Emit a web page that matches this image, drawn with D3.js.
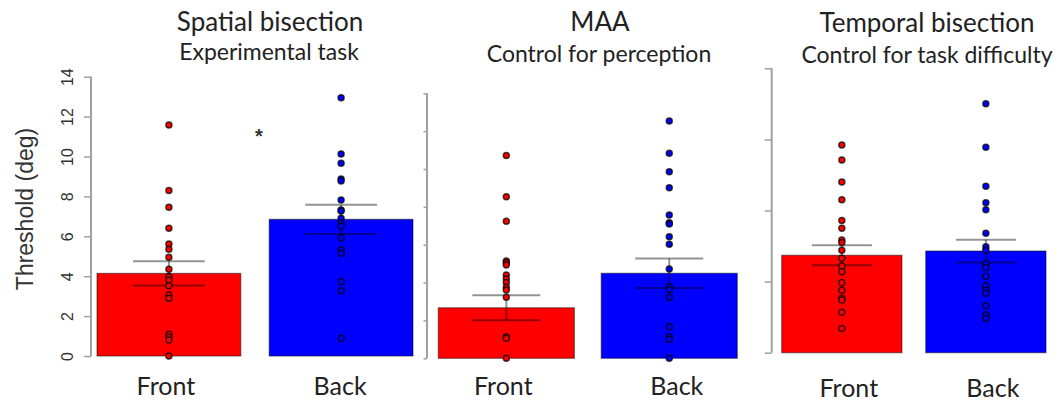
<!DOCTYPE html>
<html>
<head>
<meta charset="utf-8">
<script src="https://cdn.jsdelivr.net/npm/d3@7"></script>
<style>
  body { margin: 0; background: #fff; }
  svg { display: block; }
</style>
</head>
<body>
<svg id="chart" width="1058" height="403"></svg>
<script>
// ---- data ----
const panelTitles = ["Spatial bisection", "MAA", "Temporal bisection"];
const panelSubtitles = ["Experimental task", "Control for perception", "Control for task difficulty"];
const conditions = ["Front", "Back"];
const yAxisTitle = "Threshold (deg)";

// tick values of each panel's y axis (only the first one is labelled)
const ticksSpatial = [0, 2, 4, 6, 8, 10, 12, 14];
const ticksMAA = [0, 2, 4, 6, 8, 10, 12, 14];
const ticksTemporal = [0, 1, 2, 3, 4];

// group means and standard errors: [Front, Back]
const meanSpatial = [4.14, 6.85];
const seSpatial = [0.61, 0.73];
const meanMAA = [2.67, 4.49];
const seMAA = [0.66, 0.78];
const meanTemporal = [1.37, 1.43];
const seTemporal = [0.14, 0.16];

// individual thresholds
const spatialFront = [11.58, 8.29, 7.45, 6.40, 5.61, 5.35, 4.95, 4.35, 3.97, 3.81, 3.52, 3.06, 2.89, 1.09, 0.94, 0.80, 0];
const spatialBack = [12.95, 10.13, 9.66, 8.87, 8.77, 7.82, 7.32, 7.27, 6.90, 6.65, 6.52, 5.93, 5.31, 5.15, 3.72, 3.27, 0.89];
const maaFront = [10.72, 8.54, 7.24, 5.14, 5.05, 4.93, 4.40, 4.19, 4.01, 3.75, 3.61, 3.22, 1.14, 1.06, 0];
const maaBack = [12.54, 10.83, 9.86, 9.01, 7.57, 7.16, 7.09, 6.42, 6.02, 4.72, 3.78, 3.64, 3.22, 1.67, 1.14, 1.0, 0];
const temporalFront = [2.92, 2.71, 2.40, 2.15, 1.86, 1.75, 1.585, 1.55, 1.44, 1.33, 1.22, 1.14, 0.985, 0.88, 0.765, 0.74, 0.57, 0.34];
const temporalBack = [3.50, 2.89, 2.34, 2.11, 2.01, 1.68, 1.49, 1.44, 1.25, 1.20, 1.07, 0.94, 0.88, 0.835, 0.66, 0.53, 0.48];

// significance marker between Front and Back of the spatial task
const sigMarker = "*";
const sigValue = 11.2;

// ---- layout ----
const W = 1058, H = 403;
const barColors = ["#ff0000", "#0000ff"];
const sansFont = "Lato, 'Open Sans', sans-serif";
const axisFont = "'Liberation Sans', Arial, sans-serif";

const panels = [
  { ticks: ticksSpatial, mean: meanSpatial, se: seSpatial, pts: [spatialFront, spatialBack],
    axisX: 91, yBottom: 356, yTop: 76.7, tickLen: 7, xRange: [97, 413], labelTicks: true,
    titleX: 270, titleY: 31, subX: 269, subY: 60, labelShift: [-3, -1], labelY: 395 },
  { ticks: ticksMAA, mean: meanMAA, se: seMAA, pts: [maaFront, maaBack],
    axisX: 427, yBottom: 358.3, yTop: 93.3, tickLen: 3.5, xRange: [438.3, 737.3], labelTicks: false,
    titleX: 600, titleY: 31, subX: 599, subY: 62, labelShift: [-3, 7.5], labelY: 395 },
  { ticks: ticksTemporal, mean: meanTemporal, se: seTemporal, pts: [temporalFront, temporalBack],
    axisX: 771.7, yBottom: 352.7, yTop: 68.3, tickLen: 7, xRange: [781.7, 1046], labelTicks: false,
    titleX: 927, titleY: 32, subX: 927, subY: 63, labelShift: [7, 7], labelY: 397 }
];

const svg = d3.select("#chart");
svg.append("rect").attr("width", W).attr("height", H).attr("fill", "#fff");

panels.forEach((p, i) => {
  const g = svg.append("g");
  const y = d3.scaleLinear().domain(d3.extent(p.ticks)).range([p.yBottom, p.yTop]);
  const x = d3.scaleBand().domain(conditions).range(p.xRange).paddingInner(0.165).paddingOuter(0);
  const bw = x.bandwidth();

  // y axis, R style: line spans first to last tick, ticks point outward
  const axis = d3.axisLeft(y).tickValues(p.ticks).tickSize(p.tickLen).tickPadding(4)
    .tickFormat(p.labelTicks ? d3.format("d") : () => "");
  const ag = g.append("g").attr("transform", `translate(${p.axisX},0)`).call(axis);
  ag.select(".domain").attr("d", `M0,${p.yTop}V${p.yBottom}`).attr("stroke", "#a0a0a0").attr("stroke-width", 2);
  ag.selectAll(".tick line").attr("stroke", "#a0a0a0").attr("stroke-width", 1.5);
  ag.selectAll(".tick text")
    .attr("font-family", axisFont).attr("font-size", 16).attr("fill", "#333")
    .attr("text-anchor", "middle").attr("dy", 0)
    .attr("transform", `translate(${-(p.tickLen + 4) - 7},0) rotate(-90)`)
    .attr("x", 0).attr("y", 0);

  // bars
  g.selectAll("rect.bar").data(conditions).enter().append("rect")
    .attr("class", "bar")
    .attr("x", d => x(d)).attr("width", bw)
    .attr("y", (d, j) => y(p.mean[j]))
    .attr("height", (d, j) => y(0) - y(p.mean[j]))
    .attr("fill", (d, j) => barColors[j])
    .attr("stroke", "rgba(0,0,0,0.45)").attr("stroke-width", 1.2);

  // standard error bars
  conditions.forEach((c, j) => {
    const cx = x(c) + bw / 2;
    const hi = y(p.mean[j] + p.se[j]), lo = y(p.mean[j] - p.se[j]);
    const eg = g.append("g").attr("stroke", "rgba(0,0,0,0.42)").attr("stroke-width", 2);
    eg.append("line").attr("x1", cx).attr("x2", cx).attr("y1", hi).attr("y2", lo);
    eg.append("line").attr("x1", cx - bw / 4).attr("x2", cx + bw / 4).attr("y1", hi).attr("y2", hi);
    eg.append("line").attr("x1", cx - bw / 4).attr("x2", cx + bw / 4).attr("y1", lo).attr("y2", lo);
  });

  // individual points
  conditions.forEach((c, j) => {
    const cx = x(c) + bw / 2;
    g.selectAll(null).data(p.pts[j]).enter().append("circle")
      .attr("cx", cx).attr("cy", d => y(d)).attr("r", 3)
      .attr("fill", barColors[j])
      .attr("stroke", "rgba(0,0,0,0.72)").attr("stroke-width", 1.5);
  });

  // category labels
  g.selectAll("text.cat").data(conditions).enter().append("text")
    .attr("class", "cat")
    .attr("x", (d, j) => x(d) + bw / 2 + p.labelShift[j]).attr("y", p.labelY)
    .attr("text-anchor", "middle")
    .attr("font-family", sansFont).attr("font-size", 25).attr("fill", "#222")
    .text(d => d);

  // titles
  g.append("text").attr("x", p.titleX).attr("y", p.titleY).attr("text-anchor", "middle")
    .attr("font-family", sansFont).attr("font-size", 26).attr("fill", "#222")
    .text(panelTitles[i]);
  g.append("text").attr("x", p.subX).attr("y", p.subY).attr("text-anchor", "middle")
    .attr("font-family", sansFont).attr("font-size", 23).attr("fill", "#222")
    .text(panelSubtitles[i]);

  // significance marker on the spatial panel
  if (i === 0) {
    const mid = (x("Front") + bw + x("Back")) / 2;
    g.append("text").attr("x", mid + 4).attr("y", y(sigValue) + 10)
      .attr("text-anchor", "middle").attr("font-family", axisFont)
      .attr("font-size", 20).attr("font-weight", "bold").attr("fill", "#333")
      .text(sigMarker);
  }
});

// shared y-axis title
svg.append("text")
  .attr("transform", "translate(33,209) rotate(-90)")
  .attr("text-anchor", "middle")
  .attr("font-family", axisFont).attr("font-size", 23).attr("fill", "#333")
  .text(yAxisTitle);
</script>
</body>
</html>
